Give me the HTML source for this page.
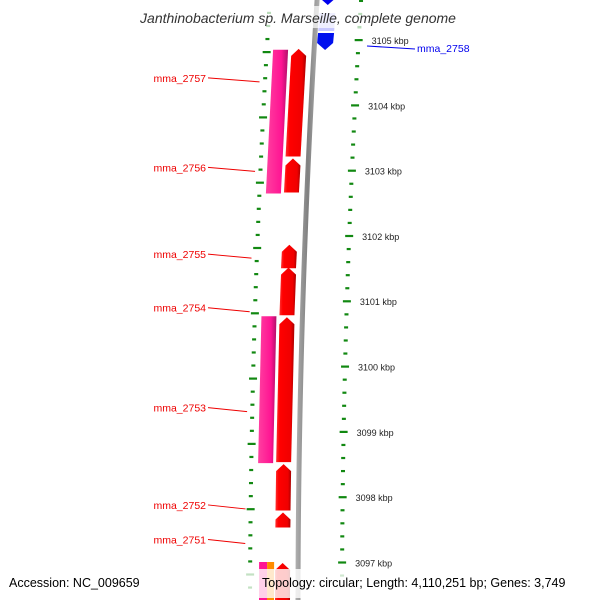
<!DOCTYPE html>
<html><head><meta charset="utf-8"><style>
html,body{margin:0;padding:0;background:#fff;}
svg{display:block;font-family:"Liberation Sans",sans-serif;}
</style></head><body>
<svg id="map" width="600" height="600" viewBox="0 0 600 600">
<defs>
<linearGradient id="gRed" x1="0" x2="1" y1="0" y2="0"><stop offset="0" stop-color="#ff3030"/><stop offset="0.2" stop-color="#ff0000"/><stop offset="0.8" stop-color="#f00000"/><stop offset="1" stop-color="#a80000"/></linearGradient>
<linearGradient id="gPink" x1="0" x2="1" y1="0" y2="0"><stop offset="0" stop-color="#ff40a0"/><stop offset="0.7" stop-color="#ff1493"/><stop offset="1" stop-color="#b0106a"/></linearGradient>
<linearGradient id="gGray" x1="0" x2="1" y1="0" y2="0"><stop offset="0" stop-color="#b0b0b0"/><stop offset="0.5" stop-color="#808080"/><stop offset="1" stop-color="#b0b0b0"/></linearGradient>
</defs>
<g id="ticks"></g>
<g id="backbone"></g>
<g id="genes"></g>
<g id="labels"></g>
<rect x="120" y="6" width="355" height="22" fill="#fff" opacity="0.7"/>
<text x="298" y="23" text-anchor="middle" font-style="italic" font-size="14" fill="#333">Janthinobacterium sp. Marseille, complete genome</text>
<rect x="0" y="570" width="258" height="26" fill="#fff" opacity="0.75"/>
<text x="9" y="587" font-size="12.5" fill="#000">Accession: NC_009659</text>
<rect x="259" y="569" width="341" height="29" fill="#fff" opacity="0.8"/>
<text x="262" y="587" font-size="12.5" fill="#000">Topology: circular; Length: 4,110,251 bp; Genes: 3,749</text>
</svg>
<script>
const tickKbp=[3105,3104,3103,3102,3101,3100,3099,3098,3097];
const geneNames=["mma_2757","mma_2756","mma_2755","mma_2754","mma_2753","mma_2752","mma_2751"];
const geneStart=[3103.20,3102.65,3101.49,3100.77,3098.52,3097.78,3097.52];
const geneEnd=[3104.88,3103.20,3101.88,3101.53,3100.77,3098.52,3097.78];
const labelKbp=[3104.42,3103.05,3101.72,3100.90,3099.37,3097.88,3097.35];
const pinkStart=[3102.65,3098.52];
const pinkEnd=[3104.85,3100.77];
const NS="http://www.w3.org/2000/svg";
function y(k){return 40+(3105-k)*65.3;}
function off(yy){const d=Math.max(0,610-yy);return d*d/19500;}
function mk(tag,attrs,parent){const e=document.createElementNS(NS,tag);for(const a in attrs)e.setAttribute(a,attrs[a]);parent.appendChild(e);return e;}
const T=document.getElementById('ticks');
for(let k=3096.8;k<=3105.8;k+=0.2){
  const kk=Math.round(k*10)/10;const yy=y(kk);if(yy<0||yy>600)continue;
  const major=Math.abs(kk-Math.round(kk))<0.01;
  const w=major?8:4;
  const xr=342+off(yy), xl=250+off(yy);
  const r=mk('rect',{x:xr-w/2,y:yy-1,width:w,height:2.2,fill:'#118811'},T);
  
  
  const l=mk('rect',{x:xl-w/2,y:(yy+12)-1,width:w,height:2.2,fill:'#118811'},T);
  
  
}
tickKbp.forEach(k=>{const yy=y(k);const t=mk('text',{x:342+off(yy)+13,y:yy+4,'font-size':'9','fill':'#222'},T);t.textContent=k+' kbp';
  
  });
// backbone
const B=document.getElementById('backbone');
let d='';for(let yy=-5;yy<=605;yy+=10){const x=298+off(yy);d+=(d?'L':'M')+(x-2.5)+','+yy;}
for(let yy=605;yy>=-5;yy-=10){const x=298+off(yy);d+='L'+(x+2.5)+','+yy;}
const bb=mk('path',{d:d+'Z',fill:'url(#gGray)'},B);


const G=document.getElementById('genes');
function band(y1,y2,x0,w,fill,arrowUp,arrowDown,name){
  const a=off(y1),b=off(y2);const h=7;
  let pts;
  if(arrowUp){pts=[[x0+a,y1+h],[x0+a+w/2,y1],[x0+a+w,y1+h],[x0+b+w,y2],[x0+b,y2]];}
  else if(arrowDown){pts=[[x0+a,y1],[x0+a+w,y1],[x0+b+w,y2-h],[x0+b+w/2,y2],[x0+b,y2-h]];}
  else pts=[[x0+a,y1],[x0+a+w,y1],[x0+b+w,y2],[x0+b,y2]];
  const p=mk('polygon',{points:pts.map(q=>q.join(',')).join(' '),fill:fill},G);
  
  
}
for(let i=0;i<pinkStart.length;i++)band(y(pinkEnd[i]),y(pinkStart[i]),257,15,'url(#gPink)',false,false,'pink-feature');
for(let i=0;i<geneNames.length;i++)band(y(geneEnd[i])+1,y(geneStart[i])-1,275,15,'url(#gRed)',true,false,'gene-'+geneNames[i]);
band(563,605,275,15,'url(#gRed)',true,false,'gene-next');
band(562,605,259,8,'#ff1493',false,false,'pink-feature-bottom');
band(562,605,267,7,'#ff8c00',false,false,'orange-feature-bottom');
// blue genes top
band(-10,5,301,16,'#0000ee',false,true,'gene-blue-top');
band(13,31,301,16,'#c8c8ff',false,false,'gene-blue-light');
band(33,50,301,16,'#0010ee',false,true,'gene-mma_2758');
const L=document.getElementById('labels');
for(let i=0;i<geneNames.length;i++){
  const ly=y(labelKbp[i])+0; const ty=[79,168,255,309,409,507,541][0];
  const yy=y(labelKbp[i]);
  const t=mk('text',{x:206,y:yy+4,'text-anchor':'end','font-size':'10.5',fill:'#ee0000'},L);t.textContent=geneNames[i];
  
  
  const ln=mk('line',{x1:208,y1:yy,x2:243+off(yy)+2,y2:yy+4,stroke:'#ee0000','stroke-width':1},L);
  
  
}
const bl=mk('line',{x1:367,y1:46,x2:415,y2:49,stroke:'#0000ee','stroke-width':1},L);


const bt=mk('text',{x:417,y:52,'font-size':'10.5',fill:'#0000ee'},L);bt.textContent='mma_2758';


</script>
</body></html>
